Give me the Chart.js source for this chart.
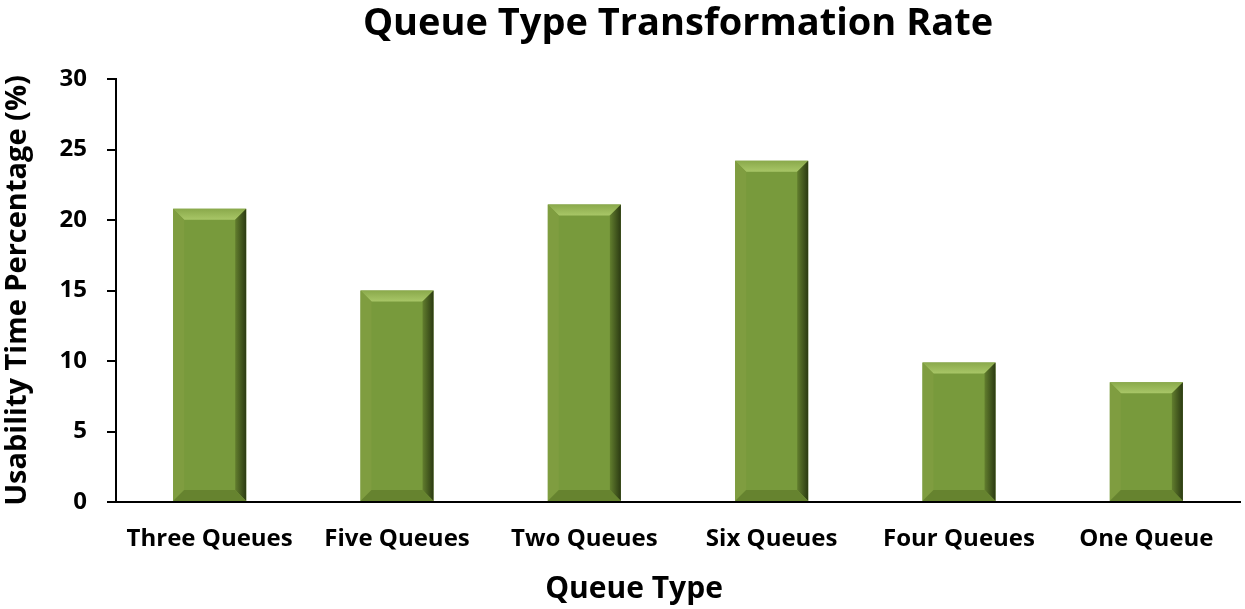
<!DOCTYPE html>
<html>
<head>
<meta charset="utf-8">
<script src="https://cdn.jsdelivr.net/npm/chart.js@4/dist/chart.umd.min.js"></script>
<style>
  html, body { margin: 0; padding: 0; background: #fff; }
  #wrap { width: 1245px; height: 609px; position: relative; }
</style>
</head>
<body>
<div id="wrap"><canvas id="chart"></canvas></div>
<script>
const categories = ['Three Queues', 'Five Queues', 'Two Queues', 'Six Queues', 'Four Queues', 'One Queue'];
const usability = [20.8, 15.0, 21.1, 24.2, 9.9, 8.5];
const yTicks = [0, 5, 10, 15, 20, 25, 30];

const FONT = "'Open Sans', sans-serif";

// bevelled bar look, painted over each bar element
const bevelBars = {
  id: 'bevelBars',
  afterDatasetsDraw(chart) {
    const ctx = chart.ctx;
    chart.getDatasetMeta(0).data.forEach((bar) => {
      const { x, y, base, width } = bar.getProps(['x', 'y', 'base', 'width'], true);
      const l = x - width / 2, r = x + width / 2, t = y, b = base;
      const s = Math.min(11, (b - t) / 3);
      ctx.save();
      // top face
      let g = ctx.createLinearGradient(0, t, 0, t + s);
      g.addColorStop(0, '#8aa94b');
      g.addColorStop(1, '#a8c667');
      ctx.fillStyle = g;
      ctx.beginPath();
      ctx.moveTo(l, t); ctx.lineTo(r, t); ctx.lineTo(r - s, t + s); ctx.lineTo(l + s, t + s); ctx.closePath();
      ctx.fill();
      // left face
      ctx.fillStyle = '#7f9d40';
      ctx.beginPath();
      ctx.moveTo(l, t); ctx.lineTo(l + s, t + s); ctx.lineTo(l + s, b - s); ctx.lineTo(l, b); ctx.closePath();
      ctx.fill();
      // right face
      g = ctx.createLinearGradient(r - s, 0, r, 0);
      g.addColorStop(0, '#627e2e');
      g.addColorStop(1, '#2b3a12');
      ctx.fillStyle = g;
      ctx.beginPath();
      ctx.moveTo(r, t); ctx.lineTo(r, b); ctx.lineTo(r - s, b - s); ctx.lineTo(r - s, t + s); ctx.closePath();
      ctx.fill();
      // bottom face
      ctx.fillStyle = '#66832f';
      ctx.beginPath();
      ctx.moveTo(l, b); ctx.lineTo(l + s, b - s); ctx.lineTo(r - s, b - s); ctx.lineTo(r, b); ctx.closePath();
      ctx.fill();
      ctx.restore();
    });
  },
};

// main title over the plot area, x title a bit left of centre as in the original
const titles = {
  id: 'titles',
  afterDraw(chart) {
    const { ctx, chartArea } = chart;
    ctx.save();
    ctx.fillStyle = '#000';
    ctx.textAlign = 'center';
    ctx.textBaseline = 'middle';
    ctx.font = `bold 38px ${FONT}`;
    ctx.fillText('Queue Type Transformation Rate', (chartArea.left + chartArea.right) / 2, 24);
    ctx.font = `bold 30px ${FONT}`;
    ctx.fillText('Queue Type', 634, 589);
    ctx.restore();
  },
};

new Chart(document.getElementById('chart'), {
  type: 'bar',
  data: {
    labels: categories,
    datasets: [{
      label: 'Usability Time Percentage (%)',
      data: usability,
      backgroundColor: '#789a3c',
      borderWidth: 0,
      barPercentage: 0.39,
      categoryPercentage: 1.0,
    }],
  },
  options: {
    responsive: true,
    maintainAspectRatio: false,
    animation: false,
    layout: { padding: { top: 79, right: 5, left: 0, bottom: 0 } },
    plugins: {
      legend: { display: false },
      tooltip: { enabled: false },
    },
    scales: {
      x: {
        afterFit(axis) { axis.height = 107; },
        grid: { display: false },
        border: { display: true, color: '#000', width: 2 },
        ticks: { color: '#000', font: { family: FONT, weight: 'bold', size: 24 }, padding: 15, maxRotation: 0 },
      },
      y: {
        min: 0,
        max: 30,
        afterFit(axis) { axis.width = 116; },
        afterBuildTicks(axis) { axis.ticks = yTicks.map((v) => ({ value: v })); },
        grid: { drawOnChartArea: false, drawTicks: true, tickLength: 9, color: '#000', lineWidth: 2 },
        border: { display: true, color: '#000', width: 2 },
        ticks: { color: '#000', font: { family: FONT, weight: 'bold', size: 24 }, padding: 20 },
        title: { display: true, text: 'Usability Time Percentage (%)', color: '#000', font: { family: FONT, weight: 'bold', size: 29 }, padding: { top: 0, bottom: 0 } },
      },
    },
  },
  plugins: [bevelBars, titles],
});
</script>
</body>
</html>
